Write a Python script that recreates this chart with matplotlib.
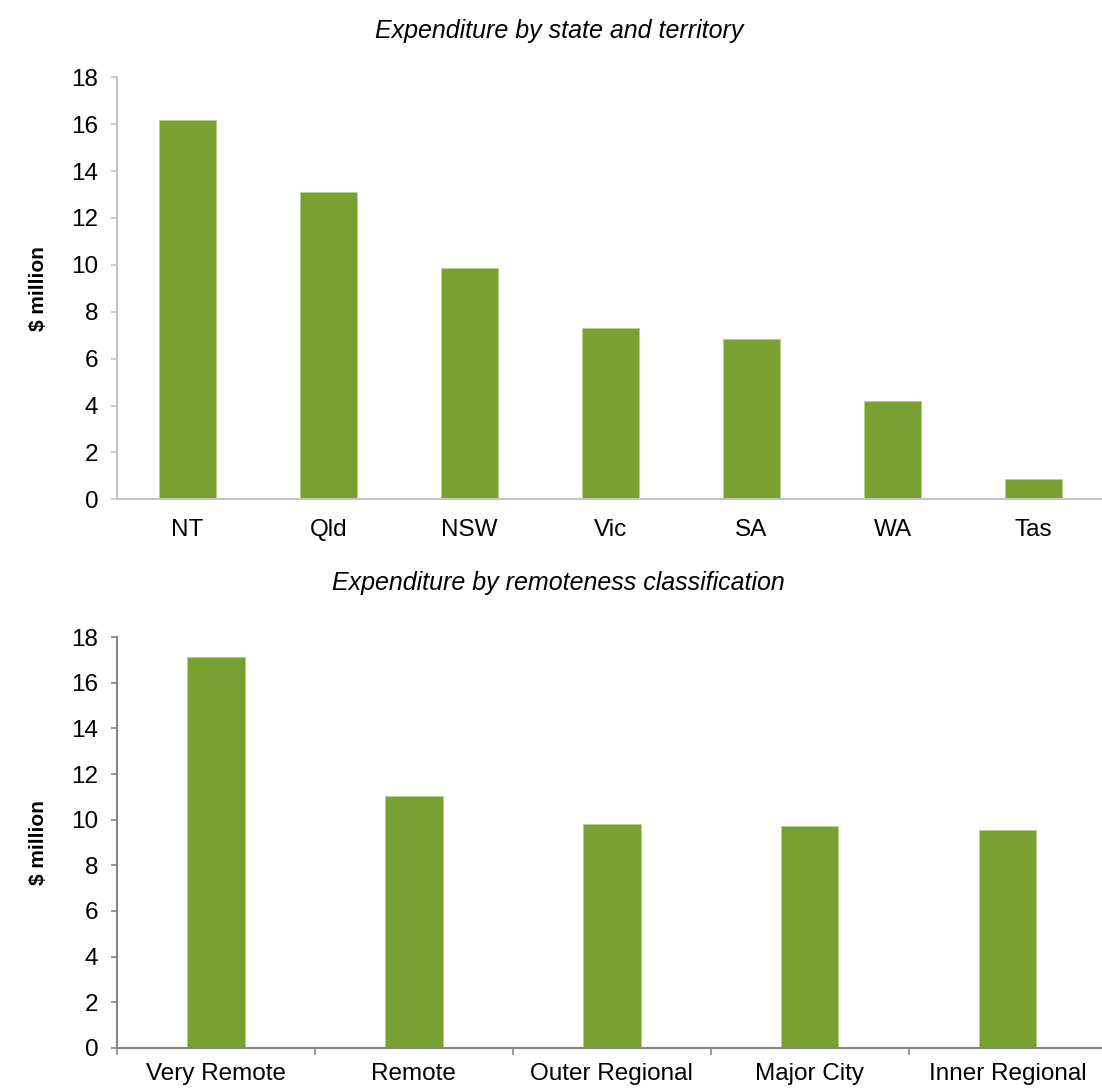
import numpy as np
import matplotlib
matplotlib.use("Agg")
import matplotlib.pyplot as plt

plt.rcParams['font.family'] = ['Liberation Sans', 'DejaVu Sans']

# Expenditure by state and territory ($ million)
states = ['NT', 'Qld', 'NSW', 'Vic', 'SA', 'WA', 'Tas']
state_values = [16.17, 13.11, 9.88, 7.32, 6.83, 4.19, 0.87]

# Expenditure by remoteness classification ($ million)
regions = ['Very Remote', 'Remote', 'Outer Regional', 'Major City', 'Inner Regional']
region_values = [17.15, 11.04, 9.81, 9.72, 9.55]

bar_color = '#78a132'
font_size = 17.5

fig = plt.figure(figsize=(11.02, 10.89), dpi=100)


def style_axes(ax, spine_color):
    ax.set_ylim(0, 18)
    ax.set_yticks(np.arange(0, 19, 2))
    for side in ['top', 'right']:
        ax.spines[side].set_visible(False)
    for side in ['left', 'bottom']:
        ax.spines[side].set_color(spine_color)
        ax.spines[side].set_linewidth(1.5)
    ax.tick_params(axis='y', direction='out', length=4.5, width=1.2,
                   color=spine_color, labelsize=font_size, pad=9)
    ax.set_ylabel('$ million', fontsize=15, fontweight='bold')
    ax.yaxis.set_label_coords(-0.07, 0.5)


# top chart
ax1 = fig.add_axes([0.1062, 0.5415, 0.8956, 0.3875])
x1 = np.arange(len(states))
ax1.bar(x1, state_values, width=0.41, color=bar_color, edgecolor='#b5d08a', linewidth=0.6)
ax1.set_xlim(-0.5, len(states) - 0.5)
style_axes(ax1, '#c4c4c4')
ax1.set_xticks(x1)
ax1.set_xticklabels(states)
ax1.tick_params(axis='x', length=0, labelsize=font_size, pad=14)
ax1.set_title('Expenditure by state and territory', fontsize=18, style='italic',
              pad=28, x=0.448)

# bottom chart
ax2 = fig.add_axes([0.1062, 0.0379, 0.898, 0.3769])
x2 = np.arange(len(regions))
ax2.bar(x2, region_values, width=0.29, color=bar_color, edgecolor='#b5d08a', linewidth=0.6)
ax2.set_xlim(-0.5, len(regions) - 0.5)
style_axes(ax2, '#868686')
ax2.set_xticks(x2)
ax2.set_xticklabels(regions)
ax2.tick_params(axis='x', which='major', length=0, labelsize=font_size, pad=11)
ax2.set_xticks(np.arange(len(regions) + 1) - 0.5, minor=True)
ax2.tick_params(axis='x', which='minor', direction='out', length=5, width=1.2, color='#868686')
ax2.set_title('Expenditure by remoteness classification', fontsize=18, style='italic',
              pad=34, x=0.446)

fig.savefig('out.png', dpi=100)
